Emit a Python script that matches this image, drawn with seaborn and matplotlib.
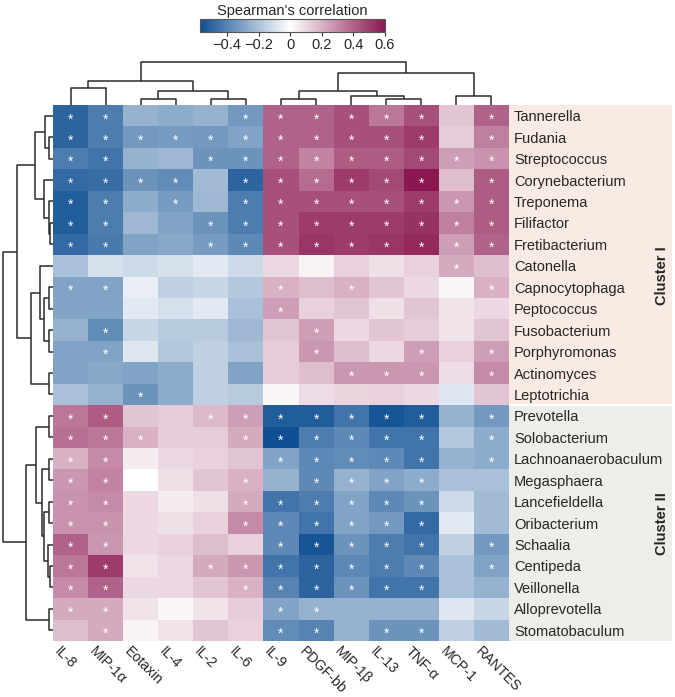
import matplotlib
matplotlib.use("Agg")
import matplotlib.pyplot as plt
import matplotlib.transforms as mtransforms
from matplotlib.colors import LinearSegmentedColormap
from matplotlib.patches import Rectangle
import seaborn as sns
import pandas as pd
import numpy as np

sns.set_theme(style="white")
plt.rcParams["font.family"] = ["Liberation Sans", "DejaVu Sans"]

genera = [
    "Tannerella", "Fudania", "Streptococcus", "Corynebacterium", "Treponema",
    "Filifactor", "Fretibacterium", "Catonella", "Capnocytophaga", "Peptococcus",
    "Fusobacterium", "Porphyromonas", "Actinomyces", "Leptotrichia", "Prevotella",
    "Solobacterium", "Lachnoanaerobaculum", "Megasphaera", "Lancefieldella",
    "Oribacterium", "Schaalia", "Centipeda", "Veillonella", "Alloprevotella",
    "Stomatobaculum",
]
cytokines = ["IL-8", "MIP-1α", "Eotaxin", "IL-4", "IL-2", "IL-6", "IL-9",
             "PDGF-bb", "MIP-1β", "IL-13", "TNF-α", "MCP-1", "RANTES"]

# Spearman rho, rows = genera, cols = cytokines
rho = [
    [-0.50, -0.42, -0.25, -0.27, -0.25, -0.33, 0.40, 0.40, 0.45, 0.35, 0.45, 0.15, 0.40],
    [-0.50, -0.42, -0.33, -0.32, -0.33, -0.30, 0.40, 0.40, 0.45, 0.45, 0.50, 0.13, 0.33],
    [-0.42, -0.45, -0.25, -0.23, -0.35, -0.35, 0.40, 0.32, 0.42, 0.42, 0.47, 0.25, 0.28],
    [-0.48, -0.47, -0.35, -0.37, -0.22, -0.50, 0.45, 0.38, 0.50, 0.47, 0.60, 0.17, 0.42],
    [-0.52, -0.42, -0.27, -0.32, -0.23, -0.42, 0.45, 0.45, 0.45, 0.45, 0.50, 0.27, 0.42],
    [-0.52, -0.42, -0.23, -0.30, -0.35, -0.42, 0.45, 0.50, 0.50, 0.50, 0.53, 0.33, 0.42],
    [-0.48, -0.43, -0.30, -0.28, -0.32, -0.38, 0.45, 0.52, 0.50, 0.52, 0.55, 0.25, 0.40],
    [-0.20, -0.10, -0.12, -0.10, -0.07, -0.12, 0.10, 0.03, 0.12, 0.08, 0.12, 0.22, 0.17],
    [-0.30, -0.30, -0.05, -0.15, -0.13, -0.18, 0.20, 0.17, 0.20, 0.15, 0.10, 0.02, 0.20],
    [-0.30, -0.30, -0.07, -0.10, -0.07, -0.20, 0.25, 0.12, 0.15, 0.08, 0.15, 0.07, 0.10],
    [-0.25, -0.37, -0.13, -0.17, -0.17, -0.23, 0.15, 0.25, 0.10, 0.15, 0.13, 0.07, 0.15],
    [-0.30, -0.30, -0.08, -0.18, -0.15, -0.20, 0.13, 0.27, 0.17, 0.10, 0.25, 0.12, 0.25],
    [-0.30, -0.28, -0.30, -0.27, -0.15, -0.30, 0.13, 0.17, 0.27, 0.27, 0.27, 0.09, 0.30],
    [-0.20, -0.25, -0.35, -0.27, -0.15, -0.17, 0.02, 0.09, 0.11, 0.12, 0.10, -0.08, 0.15],
    [0.35, 0.42, 0.15, 0.13, 0.18, 0.25, -0.52, -0.52, -0.45, -0.55, -0.52, -0.25, -0.33],
    [0.37, 0.35, 0.20, 0.13, 0.13, 0.22, -0.57, -0.42, -0.38, -0.45, -0.45, -0.18, -0.27],
    [0.20, 0.30, 0.05, 0.10, 0.12, 0.15, -0.30, -0.38, -0.37, -0.38, -0.45, -0.25, -0.27],
    [0.27, 0.32, 0.00, 0.08, 0.15, 0.20, -0.25, -0.38, -0.25, -0.30, -0.27, -0.20, -0.20],
    [0.28, 0.30, 0.10, 0.05, 0.08, 0.22, -0.45, -0.42, -0.30, -0.38, -0.35, -0.12, -0.22],
    [0.28, 0.28, 0.10, 0.08, 0.12, 0.30, -0.38, -0.45, -0.30, -0.33, -0.48, -0.07, -0.22],
    [0.40, 0.27, 0.10, 0.12, 0.17, 0.12, -0.38, -0.55, -0.35, -0.42, -0.45, -0.15, -0.33],
    [0.35, 0.50, 0.07, 0.10, 0.22, 0.27, -0.45, -0.50, -0.38, -0.42, -0.38, -0.20, -0.30],
    [0.30, 0.40, 0.10, 0.10, 0.15, 0.20, -0.40, -0.50, -0.35, -0.45, -0.45, -0.20, -0.25],
    [0.22, 0.22, 0.07, 0.02, 0.07, 0.13, -0.30, -0.25, -0.25, -0.25, -0.25, -0.08, -0.13],
    [0.17, 0.22, 0.03, 0.07, 0.15, 0.12, -0.37, -0.40, -0.25, -0.35, -0.35, -0.15, -0.22],
]

# 1 = significant (white asterisk)
signif = [
    [1, 1, 0, 0, 0, 1, 1, 1, 1, 1, 1, 0, 1],
    [1, 1, 1, 1, 1, 1, 1, 1, 1, 1, 1, 0, 1],
    [1, 1, 0, 0, 1, 1, 1, 1, 1, 1, 1, 1, 1],
    [1, 1, 1, 1, 0, 1, 1, 1, 1, 1, 1, 0, 1],
    [1, 1, 0, 1, 0, 1, 1, 1, 1, 1, 1, 1, 1],
    [1, 1, 0, 0, 1, 1, 1, 1, 1, 1, 1, 1, 1],
    [1, 1, 0, 0, 1, 1, 1, 1, 1, 1, 1, 1, 1],
    [0, 0, 0, 0, 0, 0, 0, 0, 0, 0, 0, 1, 0],
    [1, 1, 0, 0, 0, 0, 1, 0, 1, 0, 0, 0, 1],
    [0, 0, 0, 0, 0, 0, 1, 0, 0, 0, 0, 0, 0],
    [0, 1, 0, 0, 0, 0, 0, 1, 0, 0, 0, 0, 0],
    [0, 1, 0, 0, 0, 0, 0, 1, 0, 0, 1, 0, 1],
    [0, 0, 0, 0, 0, 0, 0, 0, 1, 1, 1, 0, 1],
    [0, 0, 1, 0, 0, 0, 0, 0, 0, 0, 0, 0, 0],
    [1, 1, 0, 0, 1, 1, 1, 1, 1, 1, 1, 0, 1],
    [1, 1, 1, 0, 0, 1, 1, 1, 1, 1, 1, 0, 1],
    [1, 1, 0, 0, 0, 0, 1, 1, 1, 1, 1, 0, 1],
    [1, 1, 0, 0, 0, 1, 0, 1, 1, 1, 1, 0, 0],
    [1, 1, 0, 0, 0, 1, 1, 1, 1, 1, 1, 0, 0],
    [1, 1, 0, 0, 0, 1, 1, 1, 1, 1, 1, 0, 0],
    [1, 1, 0, 0, 0, 0, 1, 1, 1, 1, 1, 0, 1],
    [1, 1, 0, 0, 1, 1, 1, 1, 1, 1, 1, 0, 1],
    [1, 1, 0, 0, 0, 1, 1, 1, 1, 1, 1, 0, 0],
    [1, 1, 0, 0, 0, 0, 1, 1, 0, 0, 0, 0, 0],
    [0, 1, 0, 0, 0, 0, 1, 1, 0, 1, 1, 0, 0],
]

# hierarchical merges (left id, right id, height); leaves are in display order
row_merges = [
    (1, 2, 3.7), (0, 25, 8), (5, 6, 3), (4, 27, 4), (3, 28, 8.7), (26, 29, 18),
    (8, 9, 3.7), (10, 11, 3.7), (31, 32, 8.7), (7, 33, 13), (12, 13, 3.7),
    (34, 35, 22), (30, 36, 36.3), (14, 15, 3.7), (16, 17, 3.7), (18, 19, 3.7),
    (21, 22, 3), (20, 41, 4.7), (40, 42, 8.7), (39, 43, 11.3), (38, 44, 17),
    (23, 24, 3.7), (45, 46, 27), (37, 47, 50.3),
]
col_merges = [
    (0, 1, 17), (2, 3, 6), (4, 5, 6), (14, 15, 14), (13, 16, 24), (6, 7, 6),
    (9, 10, 6), (8, 19, 9.3), (18, 20, 14), (11, 12, 9), (21, 22, 32.3),
    (17, 23, 43),
]

clusters = ["Cluster I", "Cluster II"]
cluster_sizes = [14, 11]
cluster_colors = ["#f9ebe3", "#eceee8"]

VMIN, VMAX = -0.57, 0.6
cmap = LinearSegmentedColormap.from_list(
    "spearman",
    [(0.0, "#0f4f92"), (-VMIN / (VMAX - VMIN), "#ffffff"), (1.0, "#8a1750")],
)


def draw_dendrogram(ax, merges, n_leaves, orientation):
    pos = {i: i + 0.5 for i in range(n_leaves)}
    hgt = {i: 0.0 for i in range(n_leaves)}
    for k, (a, b, h) in enumerate(merges):
        xs = [pos[a], pos[a], pos[b], pos[b]]
        ys = [hgt[a], h, h, hgt[b]]
        if orientation == "top":
            ax.plot(xs, ys, color="#2b2b2b", lw=1.1, solid_capstyle="butt")
        else:
            ax.plot(ys, xs, color="#2b2b2b", lw=1.1, solid_capstyle="butt")
        node = n_leaves + k
        pos[node] = (pos[a] + pos[b]) / 2
        hgt[node] = h
    ax.set_axis_off()


W, H = 675, 697
fig = plt.figure(figsize=(W / 100, H / 100), dpi=100)


def px_axes(x0, y0, x1, y1):
    return fig.add_axes([x0 / W, 1 - y1 / H, (x1 - x0) / W, (y1 - y0) / H])


ax_hm = px_axes(53, 105, 509, 641)
ax_row = px_axes(0, 105, 53, 641)
ax_col = px_axes(53, 60, 509, 105)
cax = px_axes(200, 19, 385, 32)

df = pd.DataFrame(rho, index=genera, columns=cytokines)
stars = np.where(np.array(signif) == 1, "*", "")

sns.heatmap(
    df, ax=ax_hm, cmap=cmap, vmin=VMIN, vmax=VMAX,
    annot=stars, fmt="", annot_kws={"color": "white", "fontsize": 10},
    cbar_ax=cax, cbar_kws={"orientation": "horizontal"},
    xticklabels=True, yticklabels=True,
)
for t in ax_hm.texts:
    x, y = t.get_position()
    t.set_position((x, y + 0.17))

ax_hm.yaxis.tick_right()
ax_hm.tick_params(axis="y", length=0, pad=3.5, labelsize=10.5, labelrotation=0)
ax_hm.tick_params(axis="x", length=0, pad=2, labelsize=10.2)
shift = mtransforms.ScaledTranslation(-0.09, 0, fig.dpi_scale_trans)
for lab in ax_hm.get_xticklabels():
    lab.set_rotation(-45)
    lab.set_ha("left")
    lab.set_va("top")
    lab.set_rotation_mode("anchor")
    lab.set_transform(lab.get_transform() + shift)
ax_hm.set_xlabel("")
ax_hm.set_ylabel("")

# row / column dendrograms
draw_dendrogram(ax_row, row_merges, len(genera), "left")
ax_row.set_xlim(53, 0)
ax_row.set_ylim(len(genera), 0)
draw_dendrogram(ax_col, col_merges, len(cytokines), "top")
ax_col.set_xlim(0, len(cytokines))
ax_col.set_ylim(0, 45)

# colour bar
cbar = ax_hm.collections[0].colorbar
cbar.set_ticks([-0.4, -0.2, 0, 0.2, 0.4, 0.6],
               labels=["\u22120.4", "\u22120.2", "0", "0.2", "0.4", "0.6"])
cax.tick_params(axis="x", bottom=True, length=3, width=0.8, pad=1,
                labelsize=10.5, color="#333333")
cbar.outline.set_edgecolor("#555555")
cbar.outline.set_linewidth(0.8)
cax.set_title("Spearman's correlation", fontsize=10.5, pad=3)

# cluster background panels and labels
row_h = (641 - 105) / len(genera)
label_centres = [276, 524]
start = 0
for name, size, colr, yc in zip(clusters, cluster_sizes, cluster_colors, label_centres):
    y0 = 105 + start * row_h + (1 if start > 0 else 0)
    y1 = 105 + (start + size) * row_h - (1 if start + size < len(genera) else 0)
    fig.add_artist(Rectangle((509 / W, 1 - y1 / H), (672 - 509) / W, (y1 - y0) / H,
                             transform=fig.transFigure, facecolor=colr,
                             edgecolor="none", zorder=-1))
    fig.text(662 / W, 1 - yc / H, name, rotation=90, ha="center",
             va="center", fontsize=10.5, fontweight="bold")
    start += size

fig.savefig("out.png", dpi=100)
